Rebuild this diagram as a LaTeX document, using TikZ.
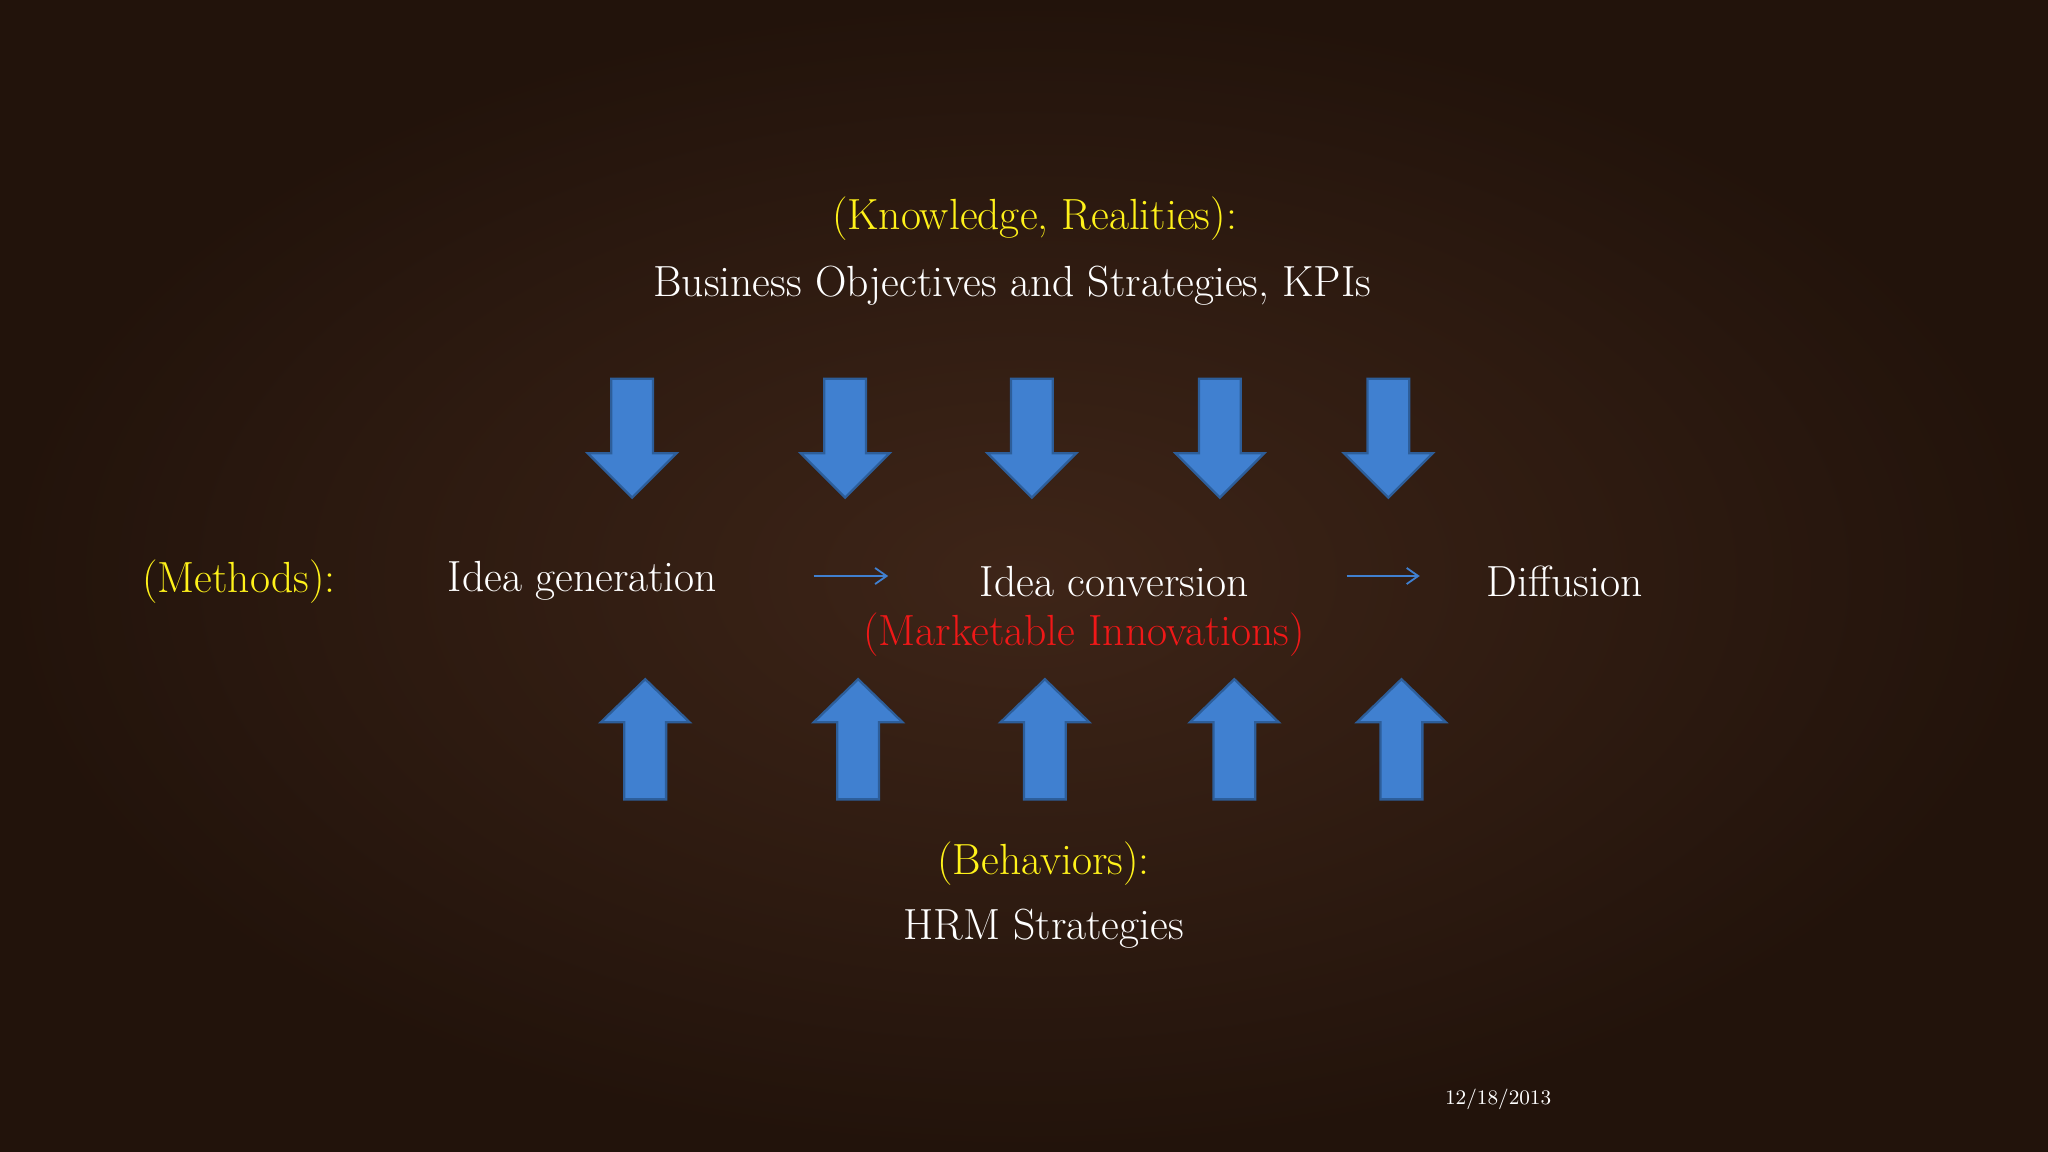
\documentclass[tikz,border=0pt]{standalone}
\usetikzlibrary{arrows.meta}
\definecolor{arrblue}{HTML}{4080D0}
\definecolor{arredge}{HTML}{2D5E9A}
\definecolor{woodin}{HTML}{3E2518}
\definecolor{woodout}{HTML}{22130B}
\definecolor{ylw}{HTML}{FFF21A}
\definecolor{rd}{HTML}{F01818}
\tikzset{
  txt/.style={text=white,font=\fontsize{19}{21}\selectfont,inner sep=0pt,anchor=center},
  ytxt/.style={txt,text=ylw},
  rtxt/.style={txt,text=rd},
  blk/.style={fill=arrblue,draw=arredge,line width=1pt},
  thin/.style={draw=arrblue,line width=0.8pt,-{Straight Barb[length=5pt,width=7pt]}}
}
\begin{document}
\begin{tikzpicture}[x=0.02cm,y=-0.02cm]
\useasboundingbox (0,0) rectangle (1568,882);
\shade[inner color=woodin,outer color=woodout] (0,0) rectangle (1568,882);
\node[ytxt] (k) at (792,167) {(Knowledge, Realities):};
\node[txt] (b) at (775,219) {Business Objectives and Strategies, KPIs};
\foreach \x in {484,647,790,934,1063}{
  \draw[blk] (\x-16,290)--(\x+16,290)--(\x+16,347)--(\x+34,347)--(\x,381)--(\x-34,347)--(\x-16,347)--cycle;}
\foreach \x in {494,657,800,945,1073}{
  \draw[blk] (\x-16,612)--(\x+16,612)--(\x+16,553)--(\x+34,553)--(\x,520)--(\x-34,553)--(\x-16,553)--cycle;}
\node[ytxt] (m) at (183,445) {(Methods):};
\node[txt] (ig) at (446,445) {Idea generation};
\node[txt] (ic) at (853,445) {Idea conversion};
\node[txt] (df) at (1198,445) {Diffusion};
\coordinate (a1s) at (623,441); \coordinate (a1e) at (680,441);
\coordinate (a2s) at (1031,441); \coordinate (a2e) at (1087,441);
\draw[thin] (a1s)--(a1e);
\draw[thin] (a2s)--(a2e);
\node[rtxt] (mi) at (830,486) {(Marketable Innovations)};
\node[ytxt] (bh) at (799,661) {(Behaviors):};
\node[txt] (h) at (799,711) {HRM Strategies};
\node[txt,font=\fontsize{9}{10}\selectfont] (d) at (1147,842) {12/18/2013};
\end{tikzpicture}
\end{document}
